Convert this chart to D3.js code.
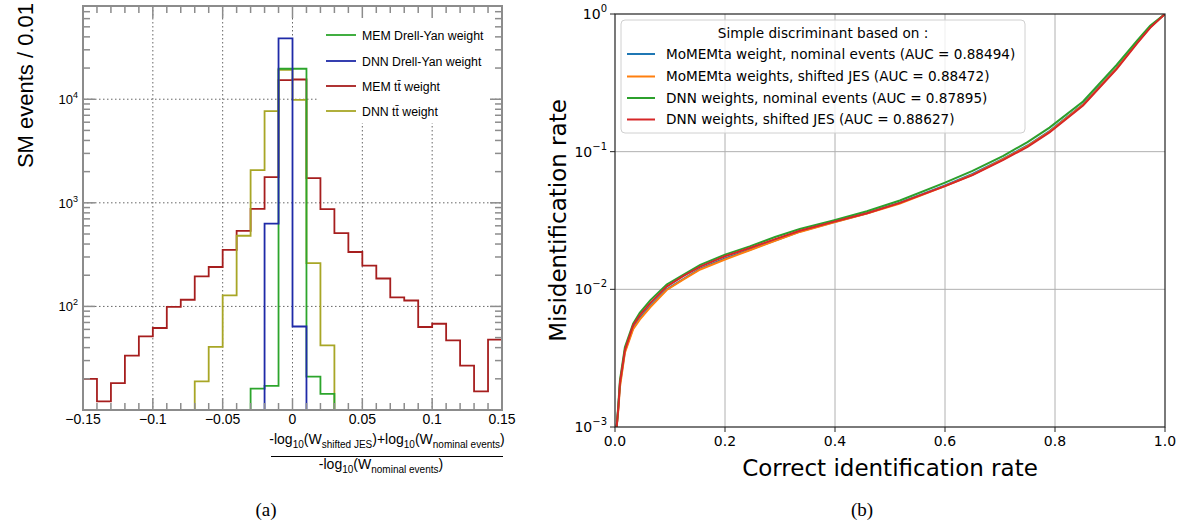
<!DOCTYPE html>
<html>
<head>
<meta charset="utf-8">
<script src="https://cdn.jsdelivr.net/npm/d3@7"></script>
<style>
  body { margin: 0; background: #fff; }
  svg { display: block; }
</style>
</head>
<body>
<svg id="fig" width="1182" height="529"></svg>
<script>
var width = 1182;
var height = 529;

// ---------- (a) histogram data: 30 bins of width 0.01 ----------
var binEdges = [-0.15, -0.14, -0.13, -0.12, -0.11, -0.10, -0.09, -0.08, -0.07, -0.06,
  -0.05, -0.04, -0.03, -0.02, -0.01, 0, 0.01, 0.02, 0.03, 0.04,
  0.05, 0.06, 0.07, 0.08, 0.09, 0.10, 0.11, 0.12, 0.13, 0.14, 0.15];

// null = outside the drawn range of that histogram
var memDY = [null, null, null, null, null, null, null, null, null, null,
  null, null, 16.1, 17.1, 19700, 19700, 21, 14.3, null, null,
  null, null, null, null, null, null, null, null, null, null];
var dnnDY = [null, null, null, null, null, null, null, null, 0, 0,
  0, 0, 0, 630, 38700, 64, 0, 0, null, null,
  null, null, null, null, null, null, null, null, null, null];
var memTT = [20, 12.1, 18.2, 33.5, 51.4, 61.9, 99, 116, 195, 240,
  352, 537, 875, 1770, 15300, 15500, 1730, 870, 511, 335,
  248, 186, 122, 114, 63.3, 68, 47, 26.8, 15.1, 47.7];
var dnnTT = [0, 0, 0, 0, 0, 0, 0, 0, 18.9, 40.6,
  128, 481, 2070, 7660, 19200, 9850, 262, 42, 0, 0,
  0, 0, 0, 0, 0, 0, 0, 0, 0, 0];

var histNames = ["MEM Drell-Yan weight", "DNN Drell-Yan weight", "MEM t\u0074\u0304 weight", "DNN t\u0074\u0304 weight"];
var histColors = ["#2ca52c", "#1f2aa8", "#a61e1e", "#a8a626"];
var histTicksX = [-0.15, -0.1, -0.05, 0, 0.05, 0.1, 0.15];
var histTickLabels = ["\u22120.15", "\u22120.1", "\u22120.05", "0", "0.05", "0.1", "0.15"];
var histMajorY = [100, 1000, 10000];

// ---------- (b) ROC data ----------
var rocX = [0.003, 0.006, 0.009, 0.018, 0.033, 0.045, 0.064, 0.094, 0.124, 0.155,
  0.2, 0.245, 0.291, 0.336, 0.397, 0.458, 0.518, 0.6, 0.65, 0.706,
  0.75, 0.79, 0.851, 0.912, 0.95, 0.973, 1.0];
var rocMemNominal = [0.001, 0.00138, 0.002042, 0.00355, 0.00525, 0.00617, 0.00759, 0.01, 0.01189, 0.01413,
  0.01679, 0.01941, 0.02265, 0.0263, 0.03069, 0.03573, 0.04266, 0.05689, 0.06887, 0.08913,
  0.1109, 0.1413, 0.2213, 0.4074, 0.631, 0.8035, 1];
var rocMemShifted = [0.001, 0.001318, 0.00195, 0.00347, 0.00513, 0.00603, 0.00741, 0.00989, 0.01175, 0.01393,
  0.01648, 0.01923, 0.02249, 0.02612, 0.03055, 0.03556, 0.04207, 0.05623, 0.06792, 0.0881,
  0.1096, 0.1396, 0.2188, 0.4027, 0.6237, 0.7998, 1];
var rocDnnNominal = [0.001, 0.001445, 0.002188, 0.0038, 0.00562, 0.00676, 0.00832, 0.01084, 0.01274, 0.01507,
  0.01786, 0.02051, 0.02399, 0.02742, 0.03162, 0.0369, 0.04416, 0.05957, 0.07244, 0.09333,
  0.1175, 0.1496, 0.2317, 0.4266, 0.6457, 0.8222, 1];
var rocDnnShifted = [0.001, 0.00138, 0.002089, 0.00363, 0.0055, 0.00646, 0.00794, 0.01047, 0.01245, 0.01462,
  0.01738, 0.01995, 0.02317, 0.02661, 0.0309, 0.03573, 0.04246, 0.05623, 0.06761, 0.0871,
  0.1084, 0.138, 0.2163, 0.3981, 0.6166, 0.7943, 1];
var rocNames = ["MoMEMta weight, nominal events (AUC = 0.88494)",
  "MoMEMta weights, shifted JES (AUC = 0.88472)",
  "DNN weights, nominal events (AUC = 0.87895)",
  "DNN weights, shifted JES (AUC = 0.88627)"];
var rocColors = ["#1f77b4", "#ff7f0e", "#2ca02c", "#d62728"];
var rocTicksX = [0, 0.2, 0.4, 0.6, 0.8, 1.0];
var rocTicksY = [0.001, 0.01, 0.1, 1];
var rocExp = ["\u22123", "\u22122", "\u22121", "0"];

var svg = d3.select("#fig");

/* ================= (a) ================= */
var L = { left: 83, right: 502, top: 6, bottom: 410 };
var xL = d3.scaleLinear().domain([-0.15, 0.15]).range([L.left, L.right]);
var yL = d3.scaleLog().domain([10, Math.pow(10, 4.9)]).range([L.bottom, L.top]);
var fontA = "'Liberation Sans', Arial, Helvetica, sans-serif";

var gA = svg.append("g").style("font-family", fontA);

// grid
gA.selectAll(".gx").data([-0.1, -0.05, 0, 0.05, 0.1]).enter().append("line")
  .attr("x1", function(d) { return xL(d); }).attr("x2", function(d) { return xL(d); })
  .attr("y1", L.top).attr("y2", L.bottom)
  .attr("stroke", "#666").attr("stroke-dasharray", "1.5,2.5");
gA.selectAll(".gy").data(histMajorY).enter().append("line")
  .attr("x1", L.left).attr("x2", L.right)
  .attr("y1", function(d) { return yL(d); }).attr("y2", function(d) { return yL(d); })
  .attr("stroke", "#666").attr("stroke-dasharray", "1.5,2.5");

// legend background hides the grid
gA.append("rect").attr("x", 318).attr("y", 7).attr("width", 174).attr("height", 116).attr("fill", "#fff");

gA.append("clipPath").attr("id", "clipA").append("rect")
  .attr("x", L.left).attr("y", L.top).attr("width", L.right - L.left).attr("height", L.bottom - L.top + 1);

function histPoints(vals) {
  // step outline, separate pieces for each run of defined bins
  var runs = [], cur = null;
  vals.forEach(function(v, i) {
    if (v === null) { if (cur) { runs.push(cur); cur = null; } return; }
    var yv = Math.max(v, 10);
    if (!cur) { cur = [[binEdges[i], 10]]; }
    cur.push([binEdges[i], yv]);
    cur.push([binEdges[i + 1], yv]);
    if (i === vals.length - 1 || vals[i + 1] === null) { cur.push([binEdges[i + 1], 10]); }
  });
  if (cur) runs.push(cur);
  return runs;
}
var stepLine = d3.line().x(function(d) { return xL(d[0]); }).y(function(d) { return yL(d[1]); });

var hists = [memTT, dnnTT, memDY, dnnDY];
var histColorOrder = [histColors[2], histColors[3], histColors[0], histColors[1]];
var histG = gA.append("g").attr("clip-path", "url(#clipA)");
hists.forEach(function(h, k) {
  histPoints(h).forEach(function(run) {
    histG.append("path").attr("d", stepLine(run))
      .attr("fill", "none").attr("stroke", histColorOrder[k]).attr("stroke-width", 1.8);
  });
});

// frame and ticks (ROOT style)
var frameCol = "#8c8c8c";
gA.append("rect").attr("x", L.left).attr("y", L.top).attr("width", L.right - L.left).attr("height", L.bottom - L.top)
  .attr("fill", "none").attr("stroke", frameCol).attr("stroke-width", 2);

var minorX = binEdges.slice(1, -1);
minorX.forEach(function(v) {
  var major = histTicksX.some(function(t) { return Math.abs(t - v) < 1e-9; });
  var len = major ? 12 : 7;
  gA.append("line").attr("x1", xL(v)).attr("x2", xL(v)).attr("y1", L.bottom).attr("y2", L.bottom - len)
    .attr("stroke", frameCol).attr("stroke-width", 1.5);
  gA.append("line").attr("x1", xL(v)).attr("x2", xL(v)).attr("y1", L.top).attr("y2", L.top + len)
    .attr("stroke", frameCol).attr("stroke-width", 1.5);
});
yL.ticks().forEach(function(v) {
  if (v <= 10 || v >= yL.domain()[1]) return;
  var major = histMajorY.indexOf(v) >= 0;
  var len = major ? 12 : 7;
  gA.append("line").attr("x1", L.left).attr("x2", L.left + len).attr("y1", yL(v)).attr("y2", yL(v))
    .attr("stroke", frameCol).attr("stroke-width", 1.5);
  gA.append("line").attr("x1", L.right).attr("x2", L.right - len).attr("y1", yL(v)).attr("y2", yL(v))
    .attr("stroke", frameCol).attr("stroke-width", 1.5);
});

// tick labels
histTicksX.forEach(function(v, i) {
  gA.append("text").attr("x", xL(v)).attr("y", 424).attr("text-anchor", "middle")
    .attr("font-size", 14).text(histTickLabels[i]);
});
histMajorY.forEach(function(v) {
  var t = gA.append("text").attr("x", 78).attr("y", yL(v) + 5).attr("text-anchor", "end").attr("font-size", 13);
  t.append("tspan").text("10");
  t.append("tspan").attr("font-size", 9).attr("dy", -6).text(String(Math.round(Math.log10(v))));
});

// y title
gA.append("text").attr("transform", "translate(33,3) rotate(-90)").attr("text-anchor", "end")
  .attr("font-size", 22).text("SM events / 0.01");

// x title as a fraction
var num = gA.append("text").attr("x", 387).attr("y", 444).attr("text-anchor", "middle").attr("font-size", 14);
function piece(t, s, sub) {
  var sp = t.append("tspan").text(s);
  if (sub === 1) sp.attr("font-size", 10).attr("dy", 4);
  if (sub === -1) sp.attr("dy", -4);
}
piece(num, "-log"); piece(num, "10", 1); piece(num, "(W", -1); piece(num, "shifted JES", 1);
piece(num, ")+log", -1); piece(num, "10", 1); piece(num, "(W", -1); piece(num, "nominal events", 1); piece(num, ")", -1);
gA.append("line").attr("x1", 271).attr("x2", 503).attr("y1", 456.5).attr("y2", 456.5).attr("stroke", "#000").attr("stroke-width", 1);
var den = gA.append("text").attr("x", 381).attr("y", 469).attr("text-anchor", "middle").attr("font-size", 14);
piece(den, "-log"); piece(den, "10", 1); piece(den, "(W", -1); piece(den, "nominal events", 1); piece(den, ")", -1);

// legend
var legA = [0, 1, 2, 3];
var legY = [35, 61, 86, 111];
legA.forEach(function(k) {
  gA.append("line").attr("x1", 326).attr("x2", 356).attr("y1", legY[k]).attr("y2", legY[k])
    .attr("stroke", histColors[k]).attr("stroke-width", 1.8);
  gA.append("text").attr("x", 362).attr("y", legY[k] + 4.5).attr("font-size", 12.3).text(histNames[k]);
});

/* ================= (b) ================= */
var R = { left: 615, right: 1165, top: 14, bottom: 427 };
var xR = d3.scaleLinear().domain([0, 1]).range([R.left, R.right]);
var yR = d3.scaleLog().domain([0.001, 1]).range([R.bottom, R.top]);
var fontB = "'DejaVu Sans', sans-serif";
var gB = svg.append("g").style("font-family", fontB);

gB.selectAll(".gx").data(rocTicksX.slice(1, -1)).enter().append("line")
  .attr("x1", function(d) { return xR(d); }).attr("x2", function(d) { return xR(d); })
  .attr("y1", R.top).attr("y2", R.bottom).attr("stroke", "#b0b0b0").attr("stroke-width", 1);
gB.selectAll(".gy").data(rocTicksY.slice(1, -1)).enter().append("line")
  .attr("x1", R.left).attr("x2", R.right)
  .attr("y1", function(d) { return yR(d); }).attr("y2", function(d) { return yR(d); })
  .attr("stroke", "#b0b0b0").attr("stroke-width", 1);

gB.append("clipPath").attr("id", "clipB").append("rect")
  .attr("x", R.left).attr("y", R.top).attr("width", R.right - R.left).attr("height", R.bottom - R.top);

var rocSeries = [rocMemNominal, rocMemShifted, rocDnnNominal, rocDnnShifted];
var rocLine = d3.line().x(function(d, i) { return xR(rocX[i]); }).y(function(d) { return yR(d); });
var curveG = gB.append("g").attr("clip-path", "url(#clipB)");
rocSeries.forEach(function(s, k) {
  curveG.append("path").attr("d", rocLine(s)).attr("fill", "none")
    .attr("stroke", rocColors[k]).attr("stroke-width", 2);
});

// legend
gB.append("rect").attr("x", 621).attr("y", 20).attr("width", 404).attr("height", 113).attr("rx", 4)
  .attr("fill", "#fff").attr("fill-opacity", 0.8).attr("stroke", "#d0d0d0");
gB.append("text").attr("x", 823).attr("y", 33).attr("dy", "0.35em").attr("text-anchor", "middle")
  .attr("font-size", 13.6).text("Simple discriminant based on :");
var legBY = [54, 76.5, 98, 119.5];
rocNames.forEach(function(n, k) {
  gB.append("line").attr("x1", 627).attr("x2", 655).attr("y1", legBY[k]).attr("y2", legBY[k])
    .attr("stroke", rocColors[k]).attr("stroke-width", 2);
  gB.append("text").attr("x", 666).attr("y", legBY[k]).attr("dy", "0.35em").attr("font-size", 13.6).text(n);
});

// frame
gB.append("rect").attr("x", R.left).attr("y", R.top).attr("width", R.right - R.left).attr("height", R.bottom - R.top)
  .attr("fill", "none").attr("stroke", "#222").attr("stroke-width", 1.2);

// axes ticks and labels
rocTicksX.forEach(function(v) {
  gB.append("line").attr("x1", xR(v)).attr("x2", xR(v)).attr("y1", R.bottom).attr("y2", R.bottom + 5).attr("stroke", "#222");
  gB.append("text").attr("x", xR(v)).attr("y", 446).attr("text-anchor", "middle").attr("font-size", 14)
    .text(d3.format(".1f")(v));
});
rocTicksY.forEach(function(v, i) {
  gB.append("line").attr("x1", R.left).attr("x2", R.left - 5).attr("y1", yR(v)).attr("y2", yR(v)).attr("stroke", "#222");
  var t = gB.append("text").attr("x", 607).attr("y", yR(v) + 5).attr("text-anchor", "end").attr("font-size", 14);
  t.append("tspan").text("10");
  t.append("tspan").attr("font-size", 10).attr("dy", -7).text(rocExp[i]);
});

gB.append("text").attr("x", (R.left + R.right) / 2).attr("y", 476).attr("text-anchor", "middle")
  .attr("font-size", 23).text("Correct identification rate");
gB.append("text").attr("transform", "translate(566," + ((R.top + R.bottom) / 2) + ") rotate(-90)")
  .attr("text-anchor", "middle").attr("font-size", 23).text("Misidentification rate");

// captions
var capFont = "'Liberation Serif', 'Times New Roman', serif";
svg.append("text").attr("x", 266).attr("y", 516).attr("text-anchor", "middle").attr("font-size", 19)
  .style("font-family", capFont).text("(a)");
svg.append("text").attr("x", 862).attr("y", 516).attr("text-anchor", "middle").attr("font-size", 19)
  .style("font-family", capFont).text("(b)");
</script>
</body>
</html>
